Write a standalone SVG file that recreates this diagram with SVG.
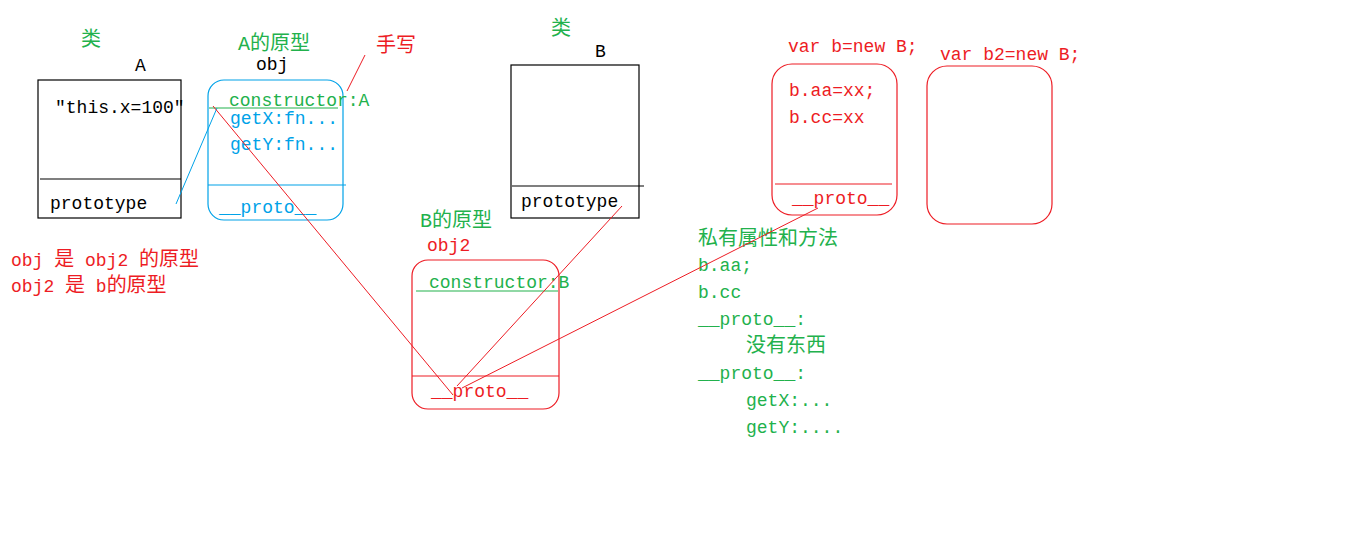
<svg xmlns="http://www.w3.org/2000/svg" width="1360" height="540" viewBox="0 0 1360 540">
<style>
text{font-family:"Liberation Mono","Noto Sans CJK SC",monospace;font-size:18px}
.cj{font-size:20px}
.g{fill:#22b14c}.r{fill:#ed1c24}.b{fill:#00a2e8}.k{fill:#000}
.box{fill:none;stroke:#000;stroke-width:1.2}
.rb{fill:none;stroke:#ed1c24;stroke-width:1.2}
.bb{fill:none;stroke:#00a2e8;stroke-width:1.2}
.ln{stroke-width:1;fill:none}
</style>
<rect width="1360" height="540" fill="#fff"/>
<g id="classA">
<text x="81" y="46" class="g cj">类</text>
<text x="135" y="71" class="k">A</text>
<rect x="38" y="80" width="143" height="138" class="box"/>
<line x1="40" y1="179" x2="181" y2="179" stroke="#000" stroke-width="1.2"/>
<text x="55" y="113" class="k">″this.x=100″</text>
<text x="50" y="209" class="k">prototype</text>
</g>
<g id="objA">
<text x="238" y="50" class="g cj">A的原型</text>
<text x="256" y="70" class="k">obj</text>
<rect x="208" y="80" width="135" height="140" rx="16" class="bb"/>
<line x1="209" y1="108" x2="338" y2="108" stroke="#22b14c" stroke-width="1.2"/>
<text x="229" y="106" class="g">constructor:A</text>
<text x="230" y="124" class="b">getX:fn...</text>
<text x="230" y="150" class="b">getY:fn...</text>
<line x1="208" y1="185" x2="346" y2="185" stroke="#00a2e8" stroke-width="1.2"/>
<text x="219" y="213" class="b">__proto__</text>
</g>
<g id="note">
<text x="376" y="52" class="r cj">手写</text>
</g>
<g id="classB">
<text x="551" y="35" class="g cj">类</text>
<text x="595" y="57" class="k">B</text>
<rect x="511" y="65" width="128" height="153" class="box"/>
<line x1="512" y1="186" x2="644" y2="186" stroke="#000" stroke-width="1.2"/>
<text x="521" y="207" class="k">prototype</text>
</g>
<g id="objB">
<text x="420" y="227" class="g cj">B的原型</text>
<text x="427" y="251" class="r">obj2</text>
<rect x="412" y="260" width="147" height="149" rx="16" class="rb"/>
<line x1="416" y1="291" x2="558" y2="291" stroke="#22b14c" stroke-width="1.2"/>
<text x="429" y="288" class="g">constructor:B</text>
<line x1="412" y1="376" x2="559" y2="376" stroke="#ed1c24" stroke-width="1.2"/>
<text x="431" y="397" class="r">__proto__</text>
</g>
<g id="instB">
<text x="788" y="52" class="r">var b=new B;</text>
<rect x="772" y="64" width="125" height="151" rx="20" class="rb"/>
<text x="789" y="96" class="r">b.aa=xx;</text>
<text x="789" y="123" class="r">b.cc=xx</text>
<line x1="775" y1="184" x2="892" y2="184" stroke="#ed1c24" stroke-width="1.2"/>
<text x="792" y="204" class="r">__proto__</text>
</g>
<g id="instB2">
<text x="940" y="60" class="r">var b2=new B;</text>
<rect x="927" y="66" width="125" height="158" rx="20" class="rb"/>
</g>
<g id="explain">
<text x="698" y="245" class="g cj">私有属性和方法</text>
<text x="698" y="271" class="g">b.aa;</text>
<text x="698" y="298" class="g">b.cc</text>
<text x="698" y="325" class="g">__proto__:</text>
<text x="746" y="352" class="g cj">没有东西</text>
<text x="698" y="379" class="g">__proto__:</text>
<text x="746" y="406" class="g">getX:...</text>
<text x="746" y="433" class="g">getY:....</text>
</g>
<g id="legend">
<text x="11" y="266" class="r">obj <tspan class="cj">是</tspan> obj2 <tspan class="cj">的原型</tspan></text>
<text x="11" y="292" class="r">obj2 <tspan class="cj">是</tspan> b<tspan class="cj">的原型</tspan></text>
</g>
<g id="connectors" class="ln">
<line x1="176" y1="204" x2="217" y2="108" stroke="#00a2e8"/>
<line x1="213" y1="106" x2="453" y2="395" stroke="#ed1c24"/>
<line x1="347" y1="91" x2="365" y2="55" stroke="#ed1c24"/>
<line x1="622" y1="206" x2="457" y2="386" stroke="#ed1c24"/>
<line x1="462" y1="388" x2="818" y2="208" stroke="#ed1c24"/>
</g>
</svg>
